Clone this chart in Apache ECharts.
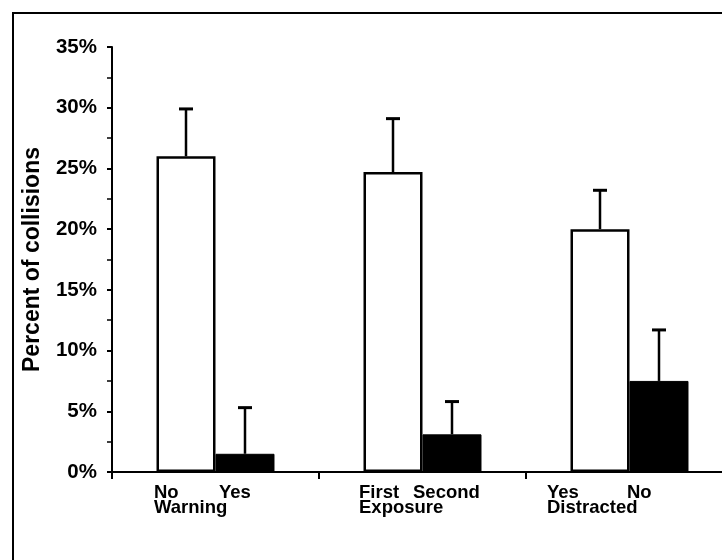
<!DOCTYPE html>
<html>
<head>
<meta charset="utf-8">
<script src="https://cdn.jsdelivr.net/npm/echarts@6/dist/echarts.min.js"></script>
<style>
  html, body { margin: 0; padding: 0; background: #fff; }
  #main { width: 722px; height: 560px; }
</style>
</head>
<body>
<div id="main"></div>
<script>
// data (percent)
const groups = ['Warning', 'Exposure', 'Distracted'];
const subLabels = [['No', 'Yes'], ['First', 'Second'], ['Yes', 'No']];
const whiteValues = [26.0, 24.7, 20.0];
const whiteErrTop = [29.9, 29.1, 23.2];
const blackValues = [1.5, 3.1, 7.5];
const blackErrTop = [5.3, 5.8, 11.7];
const yTicks = [0, 5, 10, 15, 20, 25, 30, 35];

// layout bits
const FONT = "'Liberation Sans', Arial, sans-serif";
const BAR_FRAC = 0.285;
const labelLeft = [61.5, 63.5, 82.5];   // distance of label block left edge from group center
const labelGap = [65, 54, 80];          // distance between the two sub labels

const myChart = echarts.init(document.getElementById('main'));

const rich = {};
groups.forEach((g, i) => {
  const w = labelLeft[i] * 2;
  const base = { fontFamily: FONT, fontWeight: 'bold', fontSize: 18.5, color: '#000', lineHeight: 15, align: 'left' };
  rich['a' + i] = Object.assign({}, base, { width: labelGap[i] });
  rich['b' + i] = Object.assign({}, base, { width: w - labelGap[i] });
  rich['c' + i] = Object.assign({}, base, { width: w });
});

const errData = [];
groups.forEach((g, i) => {
  errData.push([i, whiteErrTop[i], whiteValues[i], 0]);
  errData.push([i, blackErrTop[i], blackValues[i], 1]);
});

myChart.setOption({
  backgroundColor: '#fff',
  animation: false,
  graphic: [{
    type: 'rect',
    shape: { x: 13, y: 13, width: 730, height: 600 },
    style: { fill: 'none', stroke: '#000', lineWidth: 2 },
    z: -1
  }],
  grid: { left: 112, top: 47, width: 621, height: 425, outerBoundsMode: 'none' },
  xAxis: {
    type: 'category',
    data: groups,
    axisLine: { lineStyle: { color: '#000', width: 2 } },
    axisTick: { show: true, length: 7, lineStyle: { color: '#000', width: 2 } },
    axisLabel: {
      margin: 13,
      interval: 0,
      formatter: (value, idx) =>
        `{a${idx}|${subLabels[idx][0]}}{b${idx}|${subLabels[idx][1]}}\n{c${idx}|${value}}`,
      rich: rich
    },
    splitLine: { show: false }
  },
  yAxis: {
    type: 'value',
    min: 0,
    max: yTicks[yTicks.length - 1],
    interval: 5,
    name: 'Percent of collisions',
    nameLocation: 'middle',
    nameGap: 68,
    nameTextStyle: { fontFamily: FONT, fontWeight: 'bold', fontSize: 23, color: '#000' },
    axisLine: { show: true, lineStyle: { color: '#000', width: 2 } },
    axisTick: { show: true, length: 5, lineStyle: { color: '#000', width: 2 } },
    minorTick: { show: true, splitNumber: 2, length: 5, lineStyle: { color: '#000', width: 1.5 } },
    axisLabel: {
      margin: 15,
      fontFamily: FONT, fontWeight: 'bold', fontSize: 20.5, color: '#000',
      formatter: v => v + '%'
    },
    splitLine: { show: false }
  },
  series: [
    {
      type: 'bar',
      data: whiteValues,
      barWidth: (BAR_FRAC * 100) + '%',
      barGap: '0%',
      itemStyle: { color: '#fff', borderColor: '#000', borderWidth: 2.5 }
    },
    {
      type: 'bar',
      data: blackValues,
      barWidth: (BAR_FRAC * 100) + '%',
      barGap: '0%',
      itemStyle: { color: '#000', borderColor: '#000', borderWidth: 1 }
    },
    {
      type: 'custom',
      data: errData,
      z: 5,
      renderItem: function (params, api) {
        const top = api.coord([api.value(0), api.value(1)]);
        const base = api.coord([api.value(0), api.value(2)]);
        const half = api.size([1, 0])[0] * BAR_FRAC / 2;
        const x = top[0] + (api.value(3) ? half : -half);
        const style = { stroke: '#000', lineWidth: 2.5 };
        return {
          type: 'group',
          children: [
            { type: 'line', shape: { x1: x, y1: base[1], x2: x, y2: top[1] }, style: style },
            { type: 'line', shape: { x1: x - 7, y1: top[1], x2: x + 7, y2: top[1] }, style: { stroke: '#000', lineWidth: 3 } }
          ]
        };
      }
    }
  ]
});
</script>
</body>
</html>
